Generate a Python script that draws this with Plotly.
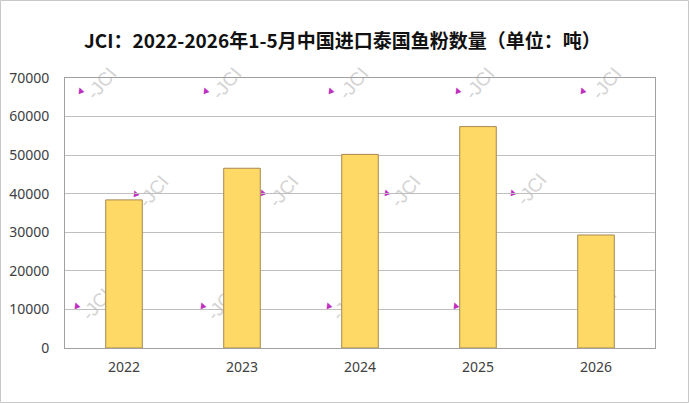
import plotly.graph_objects as go

years = ["2022", "2023", "2024", "2025", "2026"]
tons = [38400, 46600, 50200, 57400, 29300]
y_ticks = [0, 10000, 20000, 30000, 40000, 50000, 60000, 70000]

W, H = 689, 403
L, R, T, B = 65, 34, 78, 55
pw, ph = W - L - R, H - T - B

def px(x):
    return (x - L) / pw

def py(y):
    return (H - B - y) / ph

fig = go.Figure()
fig.add_trace(go.Bar(
    x=years, y=tons,
    marker=dict(color="#FFD966", line=dict(color="#A6884F", width=1)),
    width=0.31,
))

annotations = [dict(
    text="JCI：2022-2026年1-5月中国进口泰国鱼粉数量（单位：吨）",
    x=px(342), y=py(40), xref="paper", yref="paper",
    showarrow=False, xanchor="center", yanchor="middle",
    font=dict(family="Noto Sans CJK SC", size=19, color="#111111", weight="bold"),
)]

shapes = [dict(type="rect", xref="paper", yref="paper",
               x0=px(0.5), x1=px(W - 0.5), y0=py(0.5), y1=py(H - 0.5),
               line=dict(color="#C8C8C8", width=1), layer="below")]

wm = [(100, 82), (225, 82), (352, 82), (478, 82), (605, 82),
      (152, 190), (282, 190), (404, 190), (530, 188),
      (95, 303), (220, 303), (345, 303), (472, 303), (600, 303)]
pinks = [(80, 89), (205, 89), (330, 89), (457, 89), (582, 89),
         (135, 192), (262, 191), (386, 191), (512, 191),
         (76, 304), (202, 304), (328, 304), (455, 304), (580, 304)]
for (wx, wy) in wm:
    shapes.append(dict(
        type="rect", xref="paper", yref="paper", layer="below",
        x0=px(wx - 15), x1=px(wx + 15), y0=py(wy + 15), y1=py(wy - 15),
        line=dict(width=0), fillcolor="rgba(0,0,0,0)",
        label=dict(text="-JCI", textangle=-50, textposition="middle center",
                   font=dict(family="Liberation Sans", size=19, color="#D4D4D4")),
    ))
for (mx, my) in pinks:
    shapes.append(dict(
        type="rect", xref="paper", yref="paper", layer="below",
        x0=px(mx - 5), x1=px(mx + 5), y0=py(my + 5), y1=py(my - 5),
        line=dict(width=0), fillcolor="rgba(0,0,0,0)",
        label=dict(text="▲", textangle=-20, textposition="middle center",
                   font=dict(family="DejaVu Sans", size=8, color="#C030C0")),
    ))

fig.update_layout(
    width=W, height=H,
    margin=dict(l=L, r=R, t=T, b=B, autoexpand=False),
    paper_bgcolor="white", plot_bgcolor="rgba(0,0,0,0)",
    showlegend=False,
    annotations=annotations,
    shapes=shapes,
    xaxis=dict(
        type="category", showgrid=False, ticks="", automargin=False,
        showline=True, linecolor="#A0A0A0", linewidth=1, mirror=True,
        ticklabelstandoff=6,
        tickfont=dict(family="Noto Sans", size=14, color="#404040"),
    ),
    yaxis=dict(
        range=[0, 70000], tickvals=y_ticks, ticktext=[str(v) for v in y_ticks],
        showgrid=True, gridcolor="#BFBFBF", gridwidth=1, automargin=False,
        showline=True, linecolor="#A0A0A0", linewidth=1, mirror=True,
        zeroline=False, ticks="", ticklen=0,
        ticklabelstandoff=12,
        tickfont=dict(family="Noto Sans", size=14, color="#404040"),
    ),
)

fig.write_html("out.html")
